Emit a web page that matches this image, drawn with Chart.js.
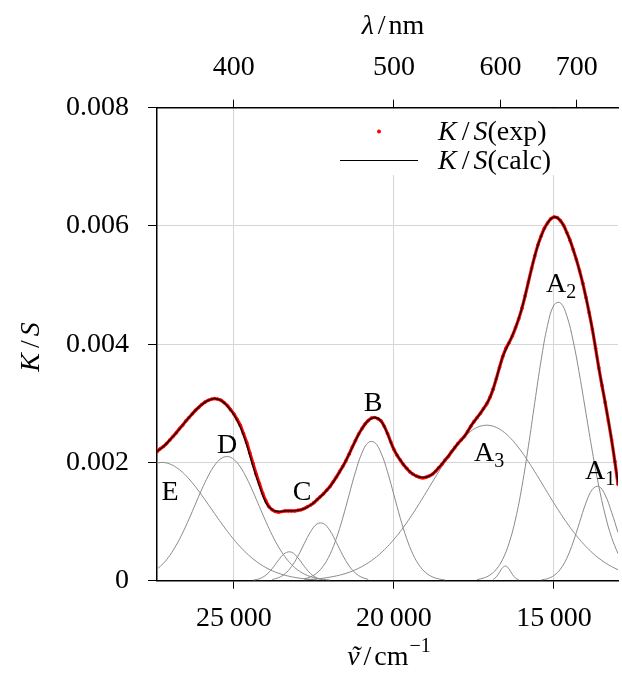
<!DOCTYPE html>
<html>
<head>
<meta charset="utf-8">
<script src="https://cdn.jsdelivr.net/npm/chart.js@4.4.0/dist/chart.umd.min.js"></script>
<style>
  html, body { margin: 0; padding: 0; background: #fff; }
  #wrap { width: 622px; height: 674px; }
</style>
</head>
<body>
<div id="wrap"><canvas id="chart" width="622" height="674"></canvas></div>
<script>
// wavenumber grid (cm-1) for the fitted curve and the band components
var NU = [
  27400, 27200, 27000, 26800, 26600, 26400, 26200, 26000, 25800, 25600,
  25400, 25200, 25000, 24800, 24600, 24400, 24200, 24000, 23800, 23600,
  23400, 23200, 23000, 22800, 22600, 22400, 22200, 22000, 21800, 21600,
  21400, 21200, 21000, 20800, 20600, 20400, 20200, 20000, 19800, 19600,
  19400, 19200, 19000, 18800, 18600, 18400, 18200, 18000, 17800, 17600,
  17400, 17200, 17000, 16800, 16600, 16400, 16200, 16000, 15800, 15600,
  15400, 15200, 15000, 14800, 14600, 14400, 14200, 14000, 13800, 13600,
  13400, 13200, 13000
];

// K/S(calc), on NU
var KS_CALC = [
  0.00219, 0.00227, 0.00238, 0.00250, 0.00263, 0.00276, 0.00288, 0.00298, 0.00305, 0.00308,
  0.00305, 0.00295, 0.00281, 0.00260, 0.00230, 0.00193, 0.00160, 0.00132, 0.00120, 0.00117,
  0.00118, 0.00118, 0.00119, 0.00122, 0.00128, 0.00137, 0.00147, 0.00159, 0.00175, 0.00193,
  0.00214, 0.00237, 0.00257, 0.00271, 0.00276, 0.00270, 0.00248, 0.00222, 0.00204, 0.00190,
  0.00180, 0.00175, 0.00175, 0.00180, 0.00191, 0.00204, 0.00218, 0.00232, 0.00244, 0.00261,
  0.00276, 0.00291, 0.00310, 0.00342, 0.00379, 0.00403, 0.00428, 0.00461, 0.00505, 0.00549,
  0.00583, 0.00605, 0.00615, 0.00609, 0.00589, 0.00560, 0.00524, 0.00479, 0.00425, 0.00360,
  0.00301, 0.00238, 0.00165
];

// measured points K/S(exp)
var NU_EXP = [
  27400, 27300, 27200, 27100, 27000, 26900, 26800, 26700, 26600, 26500,
  26400, 26300, 26200, 26100, 26000, 25900, 25800, 25700, 25600, 25500,
  25400, 25300, 25200, 25100, 25000, 24900, 24800, 24700, 24600, 24500,
  24400, 24300, 24200, 24100, 24000, 23900, 23800, 23700, 23600, 23500,
  23400, 23300, 23200, 23100, 23000, 22900, 22800, 22700, 22600, 22500,
  22400, 22300, 22200, 22100, 22000, 21900, 21800, 21700, 21600, 21500,
  21400, 21300, 21200, 21100, 21000, 20900, 20800, 20700, 20600, 20500,
  20400, 20300, 20200, 20100, 20000, 19900, 19800, 19700, 19600, 19500,
  19400, 19300, 19200, 19100, 19000, 18900, 18800, 18700, 18600, 18500,
  18400, 18300, 18200, 18100, 18000, 17900, 17800, 17700, 17600, 17500,
  17400, 17300, 17200, 17100, 17000, 16900, 16800, 16700, 16600, 16500,
  16400, 16300, 16200, 16100, 16000, 15900, 15800, 15700, 15600, 15500,
  15400, 15300, 15200, 15100, 15000, 14900, 14800, 14700, 14600, 14500,
  14400, 14300, 14200, 14100, 14000, 13900, 13800, 13700, 13600, 13500,
  13400, 13300, 13200, 13100, 13000
];
var KS_EXP = [
  0.00218, 0.00223, 0.00227, 0.00232, 0.00238, 0.00244, 0.00250, 0.00257, 0.00263, 0.00270,
  0.00276, 0.00282, 0.00288, 0.00293, 0.00298, 0.00302, 0.00305, 0.00307, 0.00308, 0.00307,
  0.00305, 0.00301, 0.00296, 0.00289, 0.00282, 0.00273, 0.00263, 0.00249, 0.00234, 0.00216,
  0.00198, 0.00180, 0.00164, 0.00148, 0.00135, 0.00125, 0.00120, 0.00117, 0.00116, 0.00117,
  0.00118, 0.00118, 0.00118, 0.00118, 0.00119, 0.00120, 0.00122, 0.00125, 0.00128, 0.00132,
  0.00137, 0.00142, 0.00147, 0.00153, 0.00159, 0.00167, 0.00175, 0.00184, 0.00193, 0.00203,
  0.00214, 0.00226, 0.00237, 0.00248, 0.00257, 0.00265, 0.00271, 0.00275, 0.00276, 0.00274,
  0.00270, 0.00261, 0.00249, 0.00235, 0.00222, 0.00212, 0.00204, 0.00196, 0.00190, 0.00184,
  0.00180, 0.00177, 0.00175, 0.00174, 0.00175, 0.00177, 0.00180, 0.00185, 0.00191, 0.00197,
  0.00204, 0.00210, 0.00218, 0.00225, 0.00232, 0.00238, 0.00244, 0.00252, 0.00261, 0.00269,
  0.00276, 0.00283, 0.00291, 0.00299, 0.00310, 0.00324, 0.00342, 0.00361, 0.00379, 0.00393,
  0.00403, 0.00414, 0.00428, 0.00443, 0.00461, 0.00482, 0.00505, 0.00528, 0.00549, 0.00568,
  0.00583, 0.00596, 0.00605, 0.00612, 0.00615, 0.00614, 0.00609, 0.00601, 0.00589, 0.00576,
  0.00560, 0.00543, 0.00524, 0.00503, 0.00479, 0.00453, 0.00425, 0.00393, 0.00360, 0.00330,
  0.00301, 0.00270, 0.00238, 0.00202, 0.00163
];

// band components; each starts at NU[start] and runs on the same grid
var BAND_E = [0.001991, 0.002000, 0.001974, 0.001917, 0.001832, 0.001721, 0.001590, 0.001445, 0.001291, 0.001135,
  0.000981, 0.000834, 0.000697, 0.000573, 0.000464, 0.000369, 0.000289, 0.000222, 0.000168, 0.000125,
  0.000092, 0.000066, 0.000047, 0.000033, 0.000022, 0.000015];
var START_E = 0;
var BAND_D = [0.000194, 0.000294, 0.000428, 0.000600, 0.000807, 0.001043, 0.001295, 0.001546, 0.001772, 0.001952,
  0.002065, 0.002100, 0.002051, 0.001925, 0.001736, 0.001504, 0.001252, 0.001001, 0.000769, 0.000568,
  0.000403, 0.000275, 0.000180, 0.000113, 0.000068, 0.000040, 0.000022, 0.000012];
var START_D = 0;
var BAND_C2 = [0.000009, 0.000033, 0.000094, 0.000206, 0.000351, 0.000466, 0.000482, 0.000388, 0.000244, 0.000119,
  0.000045, 0.000013];
var START_C2 = 15;
var BAND_C = [0.000020, 0.000052, 0.000118, 0.000237, 0.000413, 0.000627, 0.000831, 0.000960, 0.000966, 0.000848,
  0.000649, 0.000433, 0.000252, 0.000128, 0.000057, 0.000022];
var START_C = 18;
var BAND_B = [0.000030, 0.000066, 0.000134, 0.000253, 0.000442, 0.000711, 0.001057, 0.001452, 0.001842, 0.002158,
  0.002337, 0.002337, 0.002158, 0.001842, 0.001452, 0.001057, 0.000711, 0.000442, 0.000253, 0.000134,
  0.000066, 0.000030, 0.000012];
var START_B = 23;
var BAND_A3 = [0.000016, 0.000022, 0.000031, 0.000043, 0.000060, 0.000081, 0.000108, 0.000142, 0.000185, 0.000239,
  0.000303, 0.000380, 0.000472, 0.000577, 0.000698, 0.000832, 0.000981, 0.001141, 0.001311, 0.001488,
  0.001667, 0.001844, 0.002014, 0.002173, 0.002314, 0.002434, 0.002528, 0.002593, 0.002626, 0.002626,
  0.002593, 0.002528, 0.002434, 0.002314, 0.002173, 0.002014, 0.001844, 0.001667, 0.001488, 0.001311,
  0.001141, 0.000981, 0.000832, 0.000698, 0.000577, 0.000472, 0.000380, 0.000303, 0.000239, 0.000185];
var START_A3 = 23;
var BAND_A2 = [0.000019, 0.000045, 0.000096, 0.000194, 0.000364, 0.000639, 0.001044, 0.001594, 0.002269, 0.003013,
  0.003735, 0.004320, 0.004662, 0.004700, 0.004482, 0.004054, 0.003478, 0.002830, 0.002184, 0.001599,
  0.001111, 0.000731, 0.000457];
var START_A2 = 50;
var BAND_A1 = [0.000012, 0.000035, 0.000088, 0.000194, 0.000379, 0.000653, 0.000988, 0.001316, 0.001544, 0.001594,
  0.001448, 0.001159, 0.000816];
var START_A1 = 60;
// narrow band near 16500 cm-1
var NU_S = [16900, 16800, 16700, 16600, 16500, 16400, 16300, 16200, 16100];
var BAND_S = [0.000021, 0.000064, 0.000143, 0.000224, 0.000248, 0.000195, 0.000108, 0.000043, 0.000012];

var NU_TICKS = [25000, 20000, 15000];
var LAMBDA_TICKS = [400, 500, 600, 700];
var KS_TICKS = [0, 0.002, 0.004, 0.006, 0.008];

var SERIF = "'Liberation Serif', 'Times New Roman', serif";
var REG = '28px ' + SERIF;
var ITAL = 'italic 28px ' + SERIF;
var SUB = '20px ' + SERIF;
var GRID = '#d6d6d6';
var BAND_COLOR = '#8a8a8a';

function pairs(xs, ys) {
    return ys.map(function (y, i) { return {x: xs[i], y: y}; });
}

function onGrid(start, ys) {
    return ys.map(function (y, k) { return {x: NU[start + k], y: y}; });
}

function formatNu(v) {
    var s = String(v);
    return s.slice(0, s.length - 3) + '\u2009' + s.slice(-3);
}

function band(start, ys) {
    return {
        data: onGrid(start, ys),
        showLine: true,
        borderColor: BAND_COLOR,
        borderWidth: 1,
        pointRadius: 0,
        tension: 0.4,
        fill: false
    };
}

// draw a row of text pieces with mixed fonts
function drawRuns(ctx, runs, x, y, align) {
    var total = 0;
    runs.forEach(function (r) {
        ctx.font = r.font;
        r.w = ctx.measureText(r.text).width;
        total += r.w + (r.gap || 0);
    });
    var cx = align === 'center' ? x - total / 2 : x;
    runs.forEach(function (r) {
        ctx.font = r.font;
        ctx.fillText(r.text, cx, y + (r.dy || 0));
        if (r.accent) {
            ctx.textAlign = 'center';
            ctx.fillText(r.accent, cx + r.w / 2 + 2, y);
            ctx.textAlign = 'left';
        }
        cx += r.w + (r.gap || 0);
    });
}

var textPlugin = {
    id: 'texts',
    afterDatasetsDraw: function (chart) {
        var ctx = chart.ctx;
        ctx.save();
        // legend
        ctx.fillStyle = '#fff';
        ctx.fillRect(332, 109, 228, 66);
        ctx.fillStyle = '#ff0000';
        ctx.beginPath();
        ctx.arc(379, 131.5, 2, 0, Math.PI * 2);
        ctx.fill();
        ctx.strokeStyle = '#000';
        ctx.lineWidth = 1;
        ctx.beginPath();
        ctx.moveTo(340, 160.5);
        ctx.lineTo(418, 160.5);
        ctx.stroke();
        ctx.fillStyle = '#000';
        ctx.textAlign = 'left';
        ctx.textBaseline = 'alphabetic';
        drawRuns(ctx, [{text: 'K', font: ITAL, gap: 5}, {text: '/', font: REG, gap: 4},
            {text: 'S', font: ITAL}, {text: '(exp)', font: REG}], 438, 140, 'left');
        drawRuns(ctx, [{text: 'K', font: ITAL, gap: 5}, {text: '/', font: REG, gap: 4},
            {text: 'S', font: ITAL}, {text: '(calc)', font: REG}], 438, 169, 'left');

        // band labels
        ctx.font = REG;
        ctx.textAlign = 'center';
        ctx.fillText('E', 170, 500);
        ctx.fillText('D', 227, 453);
        ctx.fillText('C', 302, 500);
        ctx.fillText('B', 373, 411);
        ctx.textAlign = 'left';
        drawRuns(ctx, [{text: 'A', font: REG}, {text: '3', font: SUB, dy: 6}], 474, 461, 'left');
        drawRuns(ctx, [{text: 'A', font: REG}, {text: '2', font: SUB, dy: 6}], 546, 292, 'left');
        drawRuns(ctx, [{text: 'A', font: REG}, {text: '1', font: SUB, dy: 6}], 585, 479, 'left');
        ctx.restore();
    },
    afterDraw: function (chart) {
        var ctx = chart.ctx;
        ctx.save();
        ctx.fillStyle = '#000';
        ctx.textAlign = 'left';
        ctx.textBaseline = 'alphabetic';
        // top axis title
        drawRuns(ctx, [{text: '\u03bb', font: ITAL, gap: 4}, {text: '/', font: REG, gap: 3},
            {text: 'nm', font: REG}], 393, 34, 'center');
        // bottom axis title
        drawRuns(ctx, [{text: '\u03bd', font: ITAL, gap: 4, accent: '\u02dc'}, {text: '/', font: REG, gap: 3},
            {text: 'cm', font: REG, gap: 1}, {text: '\u22121', font: SUB, dy: -13}], 389, 665, 'center');
        // y axis title
        ctx.translate(39, 347);
        ctx.rotate(-Math.PI / 2);
        drawRuns(ctx, [{text: 'K', font: ITAL, gap: 5}, {text: '/', font: REG, gap: 4},
            {text: 'S', font: ITAL}], 0, 0, 'center');
        ctx.restore();
    }
};

var datasets = [
    {
        data: pairs(NU, KS_CALC),
        showLine: true,
        borderColor: '#000',
        borderWidth: 1.3,
        pointRadius: 0,
        tension: 0.4,
        fill: false
    },
    {
        // measured points, dense enough in the original to merge into a red band
        data: pairs(NU_EXP, KS_EXP),
        showLine: true,
        borderColor: '#ff0000',
        borderWidth: 3.2,
        tension: 0.4,
        fill: false,
        pointRadius: 1.8,
        pointBorderWidth: 0,
        pointBackgroundColor: '#ff0000',
        pointBorderColor: '#ff0000'
    },
    band(START_E, BAND_E),
    band(START_D, BAND_D),
    band(START_C2, BAND_C2),
    band(START_C, BAND_C),
    band(START_B, BAND_B),
    band(START_A3, BAND_A3),
    band(START_A2, BAND_A2),
    band(START_A1, BAND_A1),
    {
        data: pairs(NU_S, BAND_S),
        showLine: true,
        borderColor: BAND_COLOR,
        borderWidth: 1,
        pointRadius: 0,
        tension: 0.4,
        fill: false
    }
];

var tickFont = {family: SERIF, size: 28};

var chart = new Chart(document.getElementById('chart'), {
    type: 'scatter',
    data: {datasets: datasets},
    options: {
        responsive: false,
        animation: false,
        events: [],
        layout: {padding: 0},
        plugins: {legend: {display: false}, tooltip: {enabled: false}},
        scales: {
            x: {
                type: 'linear',
                position: 'bottom',
                reverse: true,
                min: 13000,
                max: 27400,
                afterBuildTicks: function (s) {
                    s.ticks = NU_TICKS.map(function (v) { return {value: v}; });
                },
                afterFit: function (s) { s.height = 93.3; },
                ticks: {
                    font: tickFont, color: '#000', padding: 13, maxRotation: 0, autoSkip: false,
                    callback: function (v) { return formatNu(v); }
                },
                grid: {color: GRID, lineWidth: 1, tickColor: '#000', tickLength: 8, tickWidth: 1},
                border: {color: '#000', width: 1.5}
            },
            x2: {
                type: 'linear',
                position: 'top',
                reverse: true,
                min: 13000,
                max: 27400,
                afterBuildTicks: function (s) {
                    s.ticks = LAMBDA_TICKS.map(function (l) { return {value: 1e7 / l}; });
                },
                afterFit: function (s) { s.height = 107.7; },
                ticks: {
                    font: tickFont, color: '#000', padding: 15, maxRotation: 0, autoSkip: false,
                    callback: function (v, i) { return String(LAMBDA_TICKS[i]); }
                },
                grid: {drawOnChartArea: false, tickColor: '#000', tickLength: 8, tickWidth: 1},
                border: {color: '#000', width: 1.5}
            },
            y: {
                type: 'linear',
                position: 'left',
                min: 0,
                max: 0.008,
                afterBuildTicks: function (s) {
                    s.ticks = KS_TICKS.map(function (v) { return {value: v}; });
                },
                afterFit: function (s) { s.width = 157; },
                ticks: {
                    font: tickFont, color: '#000', padding: 19,
                    callback: function (v) { return v === 0 ? '0' : v.toFixed(3); }
                },
                grid: {color: GRID, lineWidth: 1, tickColor: '#000', tickLength: 9, tickWidth: 1},
                border: {color: '#000', width: 1.5}
            }
        }
    },
    plugins: [textPlugin]
});
</script>
</body>
</html>
